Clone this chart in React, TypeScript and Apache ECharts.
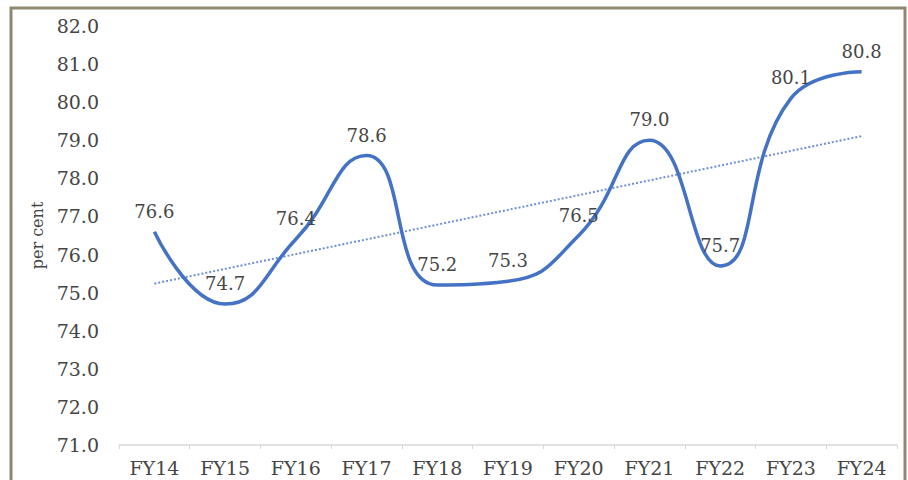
import React, { useEffect, useRef } from "react";
import * as echarts from "echarts";

const categories = ["FY14", "FY15", "FY16", "FY17", "FY18", "FY19", "FY20", "FY21", "FY22", "FY23", "FY24"];
const values = [76.6, 74.7, 76.4, 78.6, 75.2, 75.3, 76.5, 79.0, 75.7, 80.1, 80.8];
const yMin = 71;
const yMax = 82;

// Linear trendline (least squares) computed from the series values
function trend(vals: number[]): number[] {
  const n = vals.length;
  const mx = (n - 1) / 2;
  const my = vals.reduce((a, b) => a + b, 0) / n;
  let sxy = 0;
  let sxx = 0;
  vals.forEach((v, i) => {
    sxy += (i - mx) * (v - my);
    sxx += (i - mx) * (i - mx);
  });
  const slope = sxy / sxx;
  const icpt = my - slope * mx;
  return vals.map((_, i) => +(icpt + slope * i).toFixed(3));
}

const FONT = "DejaVu Serif";
const TEXT = "#454545";
const BLUE = "#4472C4";

export default function App() {
  const ref = useRef<HTMLDivElement>(null);
  useEffect(() => {
    if (!ref.current) return;
    const chart = echarts.init(ref.current, null, { renderer: "svg" });
    chart.setOption({
      animation: false,
      backgroundColor: "#ffffff",
      graphic: [
        {
          type: "rect",
          shape: { x: 11, y: 8, width: 894, height: 490 },
          style: { fill: "none", stroke: "#8f8772", lineWidth: 3 },
          z: 100,
        },
      ],
      grid: { left: 119, right: 11, top: 26, bottom: 35 },
      xAxis: {
        type: "category",
        data: categories,
        boundaryGap: true,
        axisLine: { show: true, lineStyle: { color: "#d9d9d9", width: 1.5 } },
        axisTick: { show: true, alignWithLabel: false, length: 4, lineStyle: { color: "#d9d9d9" } },
        axisLabel: { color: TEXT, fontFamily: FONT, fontSize: 19, margin: 13 },
      },
      yAxis: {
        type: "value",
        min: yMin,
        max: yMax,
        interval: 1,
        name: "per cent",
        nameLocation: "middle",
        nameRotate: 90,
        nameGap: 72,
        nameTextStyle: { color: TEXT, fontFamily: FONT, fontSize: 16 },
        axisLine: { show: false },
        axisTick: { show: false },
        splitLine: { show: false },
        axisLabel: {
          color: TEXT,
          fontFamily: FONT,
          fontSize: 19,
          margin: 20,
          formatter: (v: number) => v.toFixed(1),
        },
      },
      series: [
        {
          type: "line",
          data: trend(values),
          symbol: "none",
          lineStyle: { color: "#6f8fd6", width: 2, type: [2, 2] },
          z: 1,
          silent: true,
        },
        {
          type: "line",
          data: values,
          smooth: 0.5,
          symbol: "circle",
          symbolSize: 1,
          showSymbol: true,
          itemStyle: { color: "rgba(0,0,0,0)", borderWidth: 0 },
          lineStyle: { color: BLUE, width: 3.5 },
          label: {
            show: true,
            position: "top",
            distance: 11,
            color: TEXT,
            fontFamily: FONT,
            fontSize: 18,
            formatter: (p: any) => Number(p.value).toFixed(1),
          },
          z: 2,
        },
      ],
    });
    return () => chart.dispose();
  }, []);
  return (
    <div
      ref={ref}
      style={{ position: "absolute", left: 0, top: 0, width: 908, height: 480 }}
    />
  );
}
